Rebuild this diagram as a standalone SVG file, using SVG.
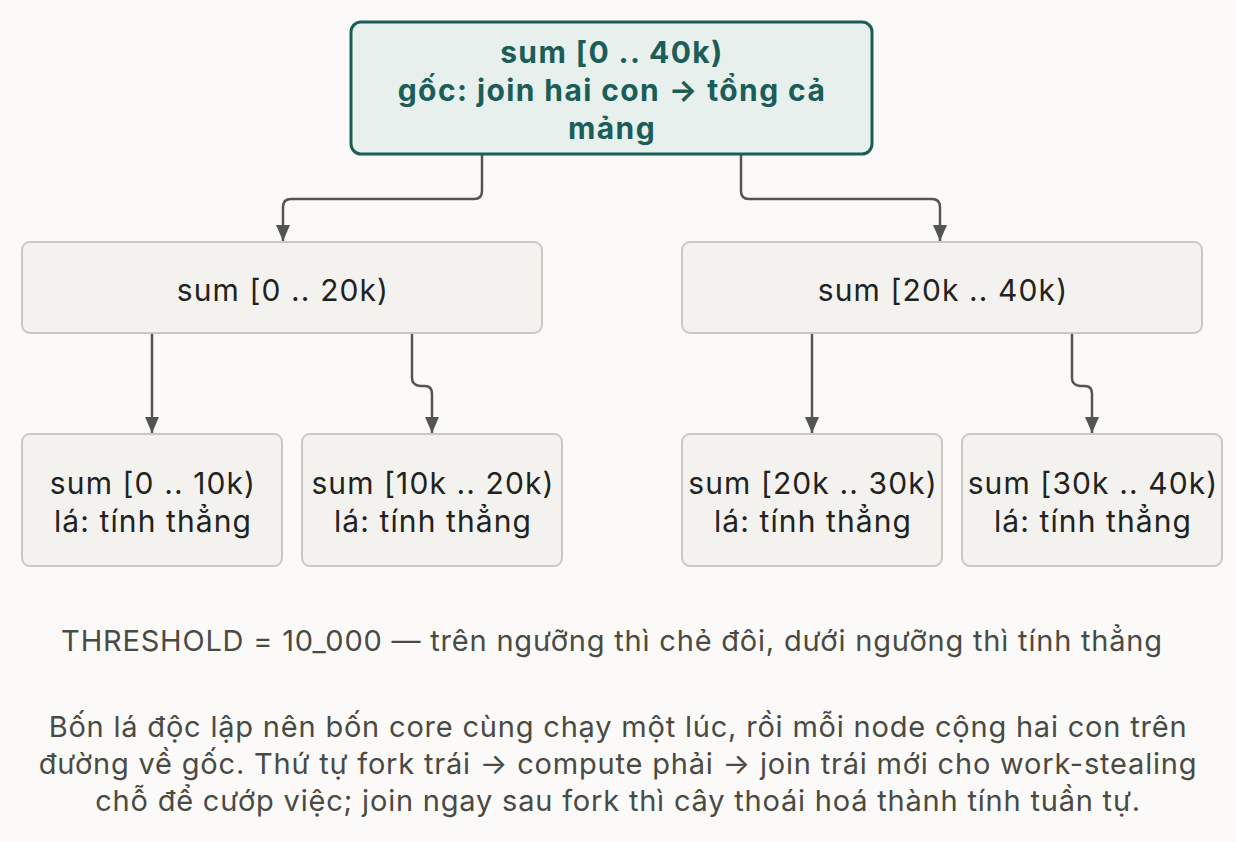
<svg xmlns="http://www.w3.org/2000/svg" width="1236" height="842" viewBox="0 0 1236 842">
<defs>
<style>
.bg{fill:#fbfaf8}
.root rect{fill:#e8f0ee;stroke:#1a5e57;stroke-width:3}
.node rect{fill:#f3f2ef;stroke:#cbc8c1;stroke-width:2}
text{font-family:Inter,"Noto Sans","DejaVu Sans",sans-serif;text-anchor:middle}
.rt{font-size:30px;font-weight:700;fill:#1a5e57;letter-spacing:1.4px}
.nt{font-size:30px;fill:#222220;letter-spacing:1.1px}
.cap{font-size:29px;fill:#4a4a44;letter-spacing:0.8px}
.edge{fill:none;stroke:#55554f;stroke-width:2.5}
</style>
<marker id="ah" viewBox="0 0 16 14" refX="16" refY="7" markerWidth="16" markerHeight="14" markerUnits="userSpaceOnUse" orient="auto">
<path d="M0,0 L16,7 L0,14 Z" fill="#55554f"/>
</marker>
</defs>
<rect class="bg" x="0" y="0" width="1236" height="842"/>
<g id="connectors">
<path class="edge" marker-end="url(#ah)" d="M482,154 V191 Q482,199 474,199 H291 Q283,199 283,207 V241"/>
<path class="edge" marker-end="url(#ah)" d="M741,154 V191 Q741,199 749,199 H932 Q940,199 940,207 V241"/>
<path class="edge" marker-end="url(#ah)" d="M152,333 V433"/>
<path class="edge" marker-end="url(#ah)" d="M412,333 V378 Q412,385 420,386 H425 Q432,386 432,394 V433"/>
<path class="edge" marker-end="url(#ah)" d="M812,333 V433"/>
<path class="edge" marker-end="url(#ah)" d="M1072,333 V378 Q1072,385 1080,386 H1085 Q1092,386 1092,394 V433"/>
</g>
<g id="root" class="root">
<rect x="351" y="22" width="521" height="132" rx="10"/>
<text class="rt" x="612" y="63">sum [0 .. 40k)</text>
<text class="rt" x="612" y="101">gốc: join hai con → tổng cả</text>
<text class="rt" x="612" y="139">mảng</text>
</g>
<g id="mid-left" class="node">
<rect x="22" y="242" width="520" height="91" rx="8"/>
<text class="nt" x="283" y="301">sum [0 .. 20k)</text>
</g>
<g id="mid-right" class="node">
<rect x="682" y="242" width="520" height="91" rx="8"/>
<text class="nt" x="943" y="301">sum [20k .. 40k)</text>
</g>
<g id="leaf1" class="node">
<rect x="22" y="434" width="260" height="132" rx="8"/>
<text class="nt" x="153" y="494">sum [0 .. 10k)</text>
<text class="nt" x="153" y="532">lá: tính thẳng</text>
</g>
<g id="leaf2" class="node">
<rect x="302" y="434" width="260" height="132" rx="8"/>
<text class="nt" x="433" y="494">sum [10k .. 20k)</text>
<text class="nt" x="433" y="532">lá: tính thẳng</text>
</g>
<g id="leaf3" class="node">
<rect x="682" y="434" width="260" height="132" rx="8"/>
<text class="nt" x="813" y="494">sum [20k .. 30k)</text>
<text class="nt" x="813" y="532">lá: tính thẳng</text>
</g>
<g id="leaf4" class="node">
<rect x="962" y="434" width="260" height="132" rx="8"/>
<text class="nt" x="1093" y="494">sum [30k .. 40k)</text>
<text class="nt" x="1093" y="532">lá: tính thẳng</text>
</g>
<g id="captions">
<text class="cap" x="612" y="651">THRESHOLD = 10_000 — trên ngưỡng thì chẻ đôi, dưới ngưỡng thì tính thẳng</text>
<text class="cap" x="618" y="737">Bốn lá độc lập nên bốn core cùng chạy một lúc, rồi mỗi node cộng hai con trên</text>
<text class="cap" x="618" y="774">đường về gốc. Thứ tự fork trái → compute phải → join trái mới cho work-stealing</text>
<text class="cap" x="618" y="811">chỗ để cướp việc; join ngay sau fork thì cây thoái hoá thành tính tuần tự.</text>
</g>
</svg>
